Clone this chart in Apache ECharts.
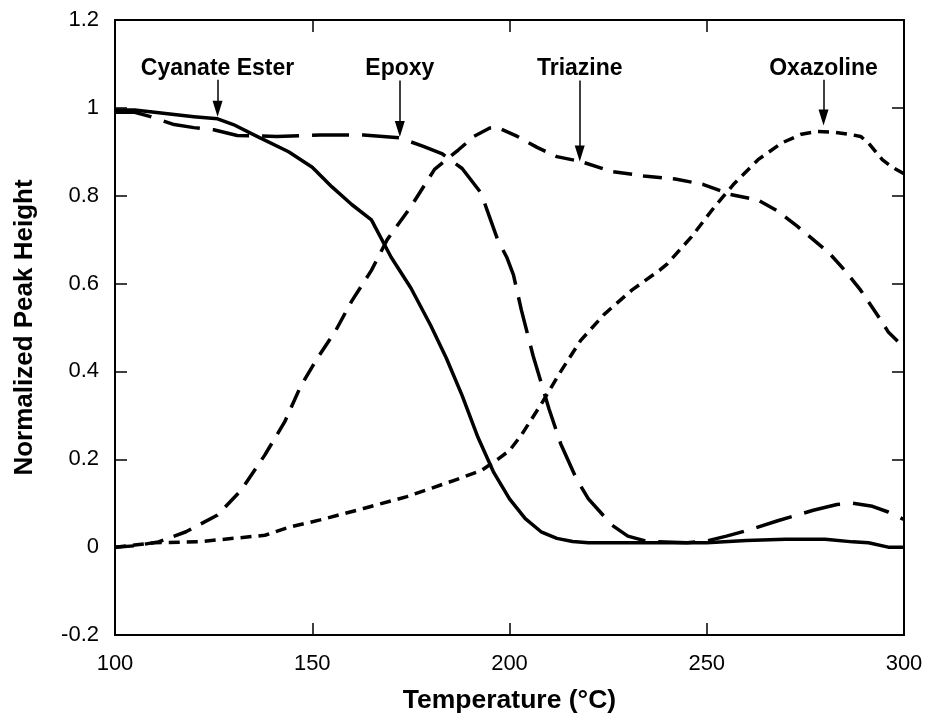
<!DOCTYPE html>
<html>
<head>
<meta charset="utf-8">
<script src="https://cdn.jsdelivr.net/npm/echarts@6/dist/echarts.min.js"></script>
<style>
  html, body { margin: 0; padding: 0; background: #fff; }
  #chart { width: 926px; height: 719px; }
</style>
</head>
<body>
<div id="chart"></div>
<script>
// temperature (°C) / normalized peak height
var cyanateT = [100, 105, 110, 115, 120, 126, 130, 136, 144, 150, 155, 160, 165, 170, 175, 180, 184, 188, 192, 196, 200, 204, 208, 212, 216, 220, 230, 240, 250, 260, 270, 280, 287, 291, 296, 300]
var cyanateY = [0.995, 0.995, 0.99, 0.985, 0.98, 0.975, 0.962, 0.935, 0.9, 0.865, 0.82, 0.78, 0.745, 0.66, 0.59, 0.505, 0.43, 0.345, 0.25, 0.17, 0.11, 0.065, 0.035, 0.02, 0.013, 0.01, 0.01, 0.01, 0.01, 0.015, 0.018, 0.018, 0.012, 0.01, 0, 0]

var epoxyT = [100, 105, 109, 115, 120, 125, 131, 141, 152, 163, 172, 178, 183, 188, 192.8, 195, 197, 199.3, 201, 203, 206, 210, 213, 217, 220, 223, 226, 230, 235, 245, 250, 255, 261, 268, 277, 283, 287, 292, 296, 300]
var epoxyY = [0.99, 0.99, 0.98, 0.962, 0.955, 0.95, 0.937, 0.935, 0.938, 0.938, 0.932, 0.913, 0.895, 0.862, 0.806, 0.75, 0.7, 0.66, 0.62, 0.54, 0.435, 0.315, 0.235, 0.155, 0.11, 0.08, 0.05, 0.025, 0.013, 0.01, 0.014, 0.025, 0.04, 0.06, 0.084, 0.097, 0.1, 0.093, 0.08, 0.063]

var triazineT = [100, 105, 111, 118, 126, 132, 138, 143, 147, 151, 156, 160, 165, 169, 175, 181, 187, 191, 195, 197, 202, 207, 212, 218, 226, 234, 242, 249, 256, 263, 268, 273, 281, 285, 289, 293, 296, 300]
var triazineY = [0, 0.003, 0.012, 0.035, 0.073, 0.13, 0.21, 0.285, 0.365, 0.426, 0.494, 0.56, 0.63, 0.7, 0.775, 0.86, 0.904, 0.935, 0.954, 0.955, 0.935, 0.91, 0.889, 0.878, 0.855, 0.845, 0.838, 0.826, 0.803, 0.79, 0.765, 0.73, 0.67, 0.63, 0.585, 0.532, 0.49, 0.455]

var oxazolineT = [100, 105, 110, 121, 130, 138, 144, 152, 163, 174, 186, 193, 197, 200, 203, 208, 213, 218, 224, 231, 238, 240, 246, 252, 257, 263, 269, 274, 278, 282, 286, 289, 291, 294.5, 297, 300]
var oxazolineY = [0, 0.005, 0.01, 0.012, 0.02, 0.027, 0.045, 0.062, 0.088, 0.115, 0.152, 0.175, 0.2, 0.22, 0.255, 0.325, 0.4, 0.47, 0.53, 0.585, 0.63, 0.645, 0.705, 0.775, 0.828, 0.882, 0.92, 0.94, 0.946, 0.945, 0.94, 0.935, 0.92, 0.882, 0.865, 0.85]

// annotations: label text, arrow x, label y, arrow top / arrow end
var noteNames = ['Cyanate Ester', 'Epoxy', 'Triazine', 'Oxazoline']
var noteX = [126, 172.2, 217.8, 279.6]
var noteY = [1.089, 1.089, 1.089, 1.089]
var arrowTop = [1.064, 1.062, 1.062, 1.064]
var arrowEnd = [0.998, 0.952, 0.896, 0.978]

var FONT = '"Liberation Sans", Arial, sans-serif'

function pairs(xs, ys) {
  return xs.map(function (x, i) { return [x, ys[i]] })
}

var chart = echarts.init(document.getElementById('chart'), null, { renderer: 'canvas' })

var tickStyle = { show: true, inside: true, length: 12, lineStyle: { color: '#000', width: 1.5 } }
var lineAxis = { show: true, onZero: false, lineStyle: { color: '#000', width: 2 } }

function curve(name, xs, ys, dash) {
  return {
    name: name,
    type: 'line',
    data: pairs(xs, ys),
    showSymbol: false,
    symbol: 'none',
    smooth: false,
    lineStyle: { color: '#000', width: 3.5, type: dash, cap: 'butt', join: 'round' },
    z: 3
  }
}

chart.setOption({
  animation: false,
  backgroundColor: '#fff',
  textStyle: { fontFamily: FONT },
  grid: { left: 115, right: 22, top: 20, bottom: 84 },
  xAxis: [
    {
      type: 'value', min: 100, max: 300, interval: 50, position: 'bottom',
      axisLine: lineAxis, axisTick: tickStyle, splitLine: { show: false },
      axisLabel: { color: '#000', fontSize: 22, margin: 18, fontFamily: FONT },
      name: 'Temperature (°C)', nameLocation: 'middle', nameGap: 52,
      nameTextStyle: { color: '#000', fontSize: 26.5, fontWeight: 'bold', fontFamily: FONT }
    },
    {
      type: 'value', min: 100, max: 300, interval: 50, position: 'top',
      axisLine: lineAxis, axisTick: tickStyle, splitLine: { show: false },
      axisLabel: { show: false }
    }
  ],
  yAxis: [
    {
      type: 'value', min: -0.2, max: 1.2, interval: 0.2, position: 'left',
      axisLine: lineAxis, axisTick: tickStyle, splitLine: { show: false },
      axisLabel: { color: '#000', fontSize: 22, margin: 16, fontFamily: FONT },
      name: 'Normalized Peak Height', nameLocation: 'middle', nameGap: 77,
      nameTextStyle: { color: '#000', fontSize: 26, fontWeight: 'bold', fontFamily: FONT }
    },
    {
      type: 'value', min: -0.2, max: 1.2, interval: 0.2, position: 'right',
      axisLine: lineAxis, axisTick: tickStyle, splitLine: { show: false },
      axisLabel: { show: false }
    }
  ],
  series: [
    curve('Cyanate Ester', cyanateT, cyanateY, 'solid'),
    curve('Epoxy', epoxyT, epoxyY, [37, 13]),
    curve('Triazine', triazineT, triazineY, [19, 11]),
    curve('Oxazoline', oxazolineT, oxazolineY, [11, 7]),
    {
      // curve labels with arrows
      type: 'scatter',
      symbolSize: 1,
      itemStyle: { color: 'rgba(0,0,0,0)', opacity: 1 },
      silent: true,
      data: noteNames.map(function (n, i) { return { name: n, value: [noteX[i], noteY[i]] } }),
      label: {
        show: true, position: 'inside', formatter: '{b}',
        color: '#000', opacity: 1, fontSize: 23, fontWeight: 'bold', fontFamily: FONT
      },
      markLine: {
        silent: true,
        symbol: ['none', 'path://M5,0L10,16L0,16Z'],
        symbolSize: 16,
        symbolKeepAspect: true,
        label: { show: false },
        lineStyle: { color: '#000', width: 1.5, type: 'solid', opacity: 1 },
        itemStyle: { color: '#000' },
        data: noteNames.map(function (n, i) {
          return [{ coord: [noteX[i], arrowTop[i]] }, { coord: [noteX[i], arrowEnd[i]] }]
        })
      },
      z: 4
    }
  ]
})
</script>
</body>
</html>
